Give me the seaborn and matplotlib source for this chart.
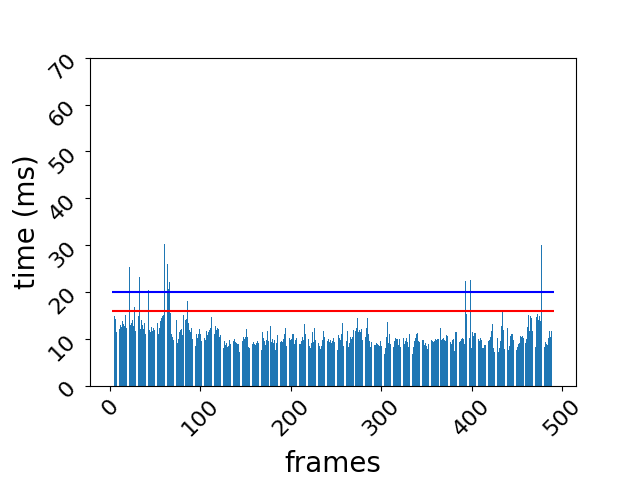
import numpy as np
import seaborn as sns
import matplotlib
matplotlib.use("Agg")
import matplotlib.pyplot as plt

# frame times (ms), one bar per frame starting at frame 5
times_ms = [
    # frames 5-84
    15.0, 14.2, 11.5, 16.9, 14.5, 15.7, 12.2, 13.0, 12.5, 13.8,
    13.2, 12.7, 15.2, 12.4, 18.6, 14.7, 13.5, 25.3, 12.9, 13.4,
    14.0, 12.8, 16.8, 11.7, 26.3, 13.6, 17.4, 15.0, 23.2, 12.1,
    14.1, 13.0, 12.2, 13.5, 11.1, 12.4, 10.2, 11.0, 20.4, 11.9,
    11.5, 12.6, 11.8, 12.3, 12.0, 16.4, 14.8, 20.4, 13.5, 11.1,
    12.4, 13.9, 14.5, 15.0, 15.2, 30.2, 21.2, 16.5, 16.3, 25.9,
    20.7, 22.1, 15.5, 11.0, 10.5, 9.7, 12.4, 12.0, 10.6, 14.0,
    9.1, 10.0, 11.5, 12.0, 12.2, 10.8, 15.2, 12.9, 13.2, 14.0,
    # frames 85-166
    14.2, 18.0, 13.5, 12.0, 11.5, 12.4, 9.9, 11.1, 9.7, 16.9,
    8.6, 11.1, 10.2, 11.0, 12.2, 11.0, 9.6, 15.2, 11.8, 12.8,
    10.2, 9.8, 11.8, 10.8, 11.5, 12.0, 12.4, 14.6, 11.1, 11.8,
    14.6, 11.1, 12.7, 11.9, 12.3, 12.2, 10.5, 10.8, 9.7, 16.5,
    11.1, 8.1, 9.5, 8.8, 9.2, 8.3, 8.6, 9.7, 9.0, 9.7,
    8.8, 9.9, 9.6, 10.1, 9.4, 9.1, 9.0, 9.0, 7.2, 9.2,
    9.9, 9.4, 9.6, 10.5, 10.0, 10.5, 12.2, 10.4, 8.4, 8.1,
    9.7, 9.1, 9.5, 9.0, 9.4, 9.0, 8.8, 9.2, 9.5, 9.2,
    9.3, 9.0,
    # frames 167-248
    9.9, 7.7, 11.4, 10.3, 9.5, 8.8, 9.7, 11.7, 9.6, 11.0,
    9.7, 12.7, 9.4, 10.0, 9.2, 9.7, 7.6, 9.1, 10.8, 9.4,
    9.2, 9.4, 9.4, 9.6, 9.3, 9.9, 11.0, 12.4, 8.6, 9.7,
    9.3, 9.5, 10.2, 9.8, 10.1, 11.0, 11.0, 9.0, 9.8, 10.3,
    9.6, 9.4, 9.2, 9.0, 9.0, 9.6, 10.5, 9.7, 13.3, 11.1,
    9.8, 10.0, 9.5, 9.9, 8.6, 8.0, 9.1, 11.5, 9.3, 12.4,
    9.7, 9.9, 10.1, 12.0, 9.1, 8.5, 7.8, 8.6, 9.7, 11.8,
    10.4, 9.8, 9.5, 9.3, 9.6, 10.0, 9.4, 9.8, 9.1, 9.5,
    10.2, 9.3,
    # frames 249-329
    11.0, 9.0, 11.4, 7.6, 10.8, 10.2, 9.8, 11.0, 13.5, 8.5,
    8.3, 13.3, 10.0, 9.6, 11.8, 8.3, 9.2, 10.4, 9.9, 10.5,
    12.0, 9.3, 11.1, 11.8, 12.4, 14.4, 11.5, 12.0, 11.6, 12.2,
    9.7, 13.7, 12.4, 10.4, 10.5, 12.4, 14.4, 11.0, 9.5, 8.4,
    9.3, 9.7, 9.4, 10.8, 8.8, 8.8, 9.1, 9.0, 8.8, 8.5,
    9.6, 8.5, 8.8, 10.5, 8.8, 6.7, 8.0, 10.5, 13.7, 9.1,
    11.1, 9.0, 9.4, 11.8, 10.4, 8.3, 9.6, 10.3, 10.0, 10.1,
    8.8, 10.1, 8.3, 9.7, 9.5, 13.1, 10.3, 9.0, 9.6, 10.2,
    9.4,
    # frames 330-411
    8.3, 11.0, 10.3, 10.1, 9.9, 6.8, 8.3, 9.5, 10.2, 11.0,
    11.2, 9.6, 9.3, 11.1, 9.7, 11.2, 9.7, 9.7, 8.8, 9.2,
    8.5, 7.8, 9.0, 7.7, 9.0, 11.8, 9.7, 9.5, 9.4, 9.6,
    9.9, 9.8, 10.0, 9.9, 11.1, 9.8, 12.4, 9.8, 9.9, 10.2,
    9.7, 9.5, 10.9, 10.6, 10.9, 10.8, 7.3, 9.3, 9.0, 9.8,
    10.1, 7.5, 11.6, 11.5, 15.4, 14.0, 8.3, 9.3, 9.6, 9.9,
    10.3, 10.1, 9.0, 22.3, 15.4, 7.6, 8.6, 10.8, 10.3, 22.5,
    8.1, 11.4, 10.6, 11.3, 11.3, 10.4, 8.1, 10.0, 10.0, 9.6,
    10.2, 9.8,
    # frames 412-490
    8.1, 8.1, 8.8, 8.8, 9.1, 9.3, 7.3, 9.5, 9.8, 10.5,
    11.8, 13.2, 8.1, 7.2, 10.2, 11.0, 10.1, 10.3, 7.2, 8.0,
    9.5, 12.8, 15.7, 12.0, 7.9, 12.0, 12.2, 15.6, 12.3, 7.6,
    8.5, 10.6, 11.1, 11.0, 9.7, 7.6, 9.3, 9.6, 7.6, 8.4,
    9.0, 9.1, 10.6, 10.4, 10.6, 10.3, 7.4, 8.0, 9.2, 10.0,
    12.5, 15.2, 11.8, 14.9, 14.5, 11.8, 14.2, 12.0, 13.6, 8.3,
    14.8, 15.3, 14.0, 15.0, 13.8, 30.0, 14.4, 7.6, 8.3, 8.3,
    9.3, 9.0, 8.8, 10.2, 11.8, 10.5, 11.8, 13.9, 12.5,
]
first_frame = 5
frames = np.arange(first_frame, first_frame + len(times_ms))

# reference lines (ms)
limit_lines = [16, 20]
limit_colors = ["r", "b"]
line_span = (2, 491)

fig, ax = plt.subplots(figsize=(6.4, 4.8), dpi=100)
fig.subplots_adjust(left=0.14, bottom=0.196, right=0.9, top=0.88)

sns.barplot(x=frames, y=times_ms, native_scale=True, color="#1f77b4",
            saturation=1, width=0.8, errorbar=None, linewidth=0, ax=ax)
for val, col in zip(limit_lines, limit_colors):
    ax.hlines(val, line_span[0], line_span[1], colors=col, linewidth=1.5)

ax.set_ylim(0, 70)
ax.set_xlabel("frames", fontsize=20, labelpad=7)
ax.set_ylabel("time (ms)", fontsize=20)
ax.tick_params(axis="both", labelsize=16, labelrotation=45)

plt.savefig("out.png")
